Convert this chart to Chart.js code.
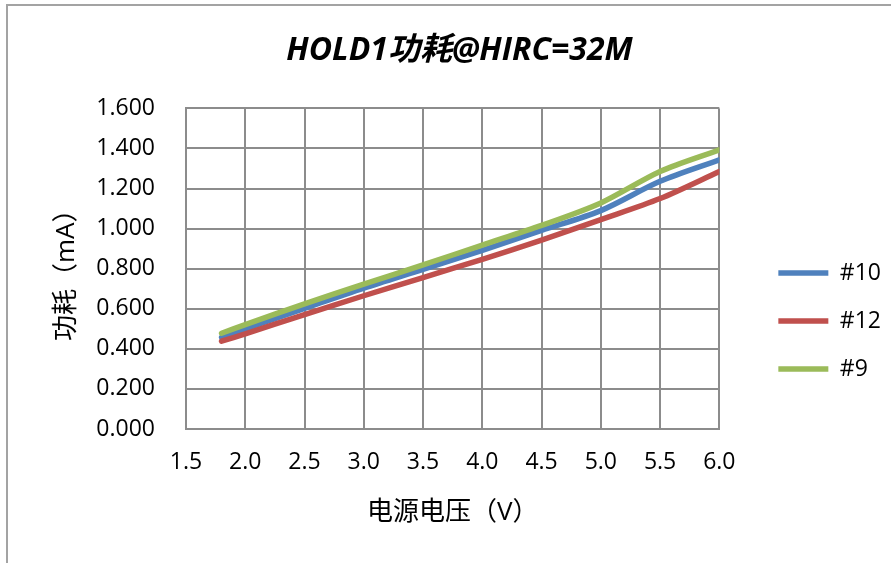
<!DOCTYPE html>
<html>
<head>
<meta charset="utf-8">
<script src="https://cdn.jsdelivr.net/npm/chart.js@4"></script>
<style>
  html, body { margin: 0; padding: 0; background: #fff; overflow: hidden; }
  #frame { position: absolute; left: 6px; top: 4px; width: 1000px; height: 1000px; border: 2px solid #a3a3a3; }
  #chart { position: absolute; left: 0; top: 0; }
</style>
</head>
<body>
<div id="frame"></div>
<canvas id="chart" width="891" height="563"></canvas>
<script>
const voltages = [1.8, 2.0, 2.5, 3.0, 3.5, 4.0, 4.5, 5.0, 5.5, 6.0];
const chip10 = [0.458, 0.500, 0.602, 0.703, 0.797, 0.892, 0.991, 1.090, 1.236, 1.343];
const chip12 = [0.438, 0.475, 0.571, 0.665, 0.756, 0.847, 0.943, 1.045, 1.150, 1.285];
const chip9 = [0.478, 0.521, 0.624, 0.723, 0.819, 0.918, 1.016, 1.128, 1.285, 1.393];
const seriesNames = ['#10', '#12', '#9'];
const seriesColors = ['#4f81bd', '#c0504d', '#9bbb59'];

const fontFamily = "'Open Sans', 'Noto Sans CJK SC', sans-serif";
const gridColor = '#8c8c8c';

function toPoints(values) {
    return voltages.map((v, i) => ({ x: v, y: values[i] }));
}

const datasets = [chip10, chip12, chip9].map((values, i) => ({
    label: seriesNames[i],
    data: toPoints(values),
    borderColor: seriesColors[i],
    backgroundColor: seriesColors[i],
    borderWidth: 5.5,
    borderCapStyle: 'round',
    pointRadius: 0,
    tension: 0.3,
    order: 2 - i
}));

const ctx = document.getElementById('chart').getContext('2d');
new Chart(ctx, {
    type: 'line',
    data: { datasets: datasets },
    options: {
        responsive: false,
        animation: false,
        layout: { padding: { left: 28, right: 0, top: 0, bottom: 28 } },
        plugins: {
            tooltip: { enabled: false },
            title: {
                display: true,
                text: 'HOLD1功耗@HIRC=32M',
                color: '#000',
                font: { family: fontFamily, size: 32, weight: 'bold', style: 'italic' },
                padding: { top: 32, bottom: 38 }
            },
            legend: {
                position: 'right',
                // empty title only pushes the entries down to where they sit in the original
                title: { display: true, text: '', font: { size: 10 }, padding: { top: 95, bottom: 0 } },
                labels: {
                    color: '#000',
                    font: { family: fontFamily, size: 23 },
                    boxWidth: 50,
                    boxHeight: 0,
                    padding: 25,
                    sort: (a, b) => a.datasetIndex - b.datasetIndex
                }
            }
        },
        scales: {
            x: {
                type: 'linear',
                min: 1.5,
                max: 6.0,
                afterFit: (scale) => { scale.height = 106; },
                ticks: {
                    stepSize: 0.5,
                    color: '#000',
                    padding: 20,
                    maxRotation: 0,
                    font: { family: fontFamily, size: 23 },
                    callback: (v) => Number(v).toFixed(1)
                },
                grid: { color: gridColor, lineWidth: 2, drawTicks: false },
                border: { color: gridColor, width: 2 },
                title: {
                    display: true,
                    text: '电源电压（V）',
                    color: '#000',
                    font: { family: fontFamily, size: 26 },
                    padding: { top: 0, bottom: 7 }
                }
            },
            y: {
                min: 0,
                max: 1.6,
                afterFit: (scale) => { scale.width = 158; },
                ticks: {
                    stepSize: 0.2,
                    color: '#000',
                    padding: 31,
                    font: { family: fontFamily, size: 23 },
                    callback: (v) => Number(v).toFixed(3)
                },
                grid: { color: gridColor, lineWidth: 2, drawTicks: false },
                border: { color: gridColor, width: 2 },
                title: {
                    display: true,
                    text: '功耗（mA）',
                    color: '#000',
                    font: { family: fontFamily, size: 26 },
                    padding: { top: 23, bottom: 0 }
                }
            },
            gap: {
                position: 'right',
                display: true,
                afterFit: (scale) => { scale.width = 34; },
                ticks: { display: false },
                grid: { display: false, drawTicks: false },
                border: { display: false }
            }
        }
    }
});
</script>
</body>
</html>
